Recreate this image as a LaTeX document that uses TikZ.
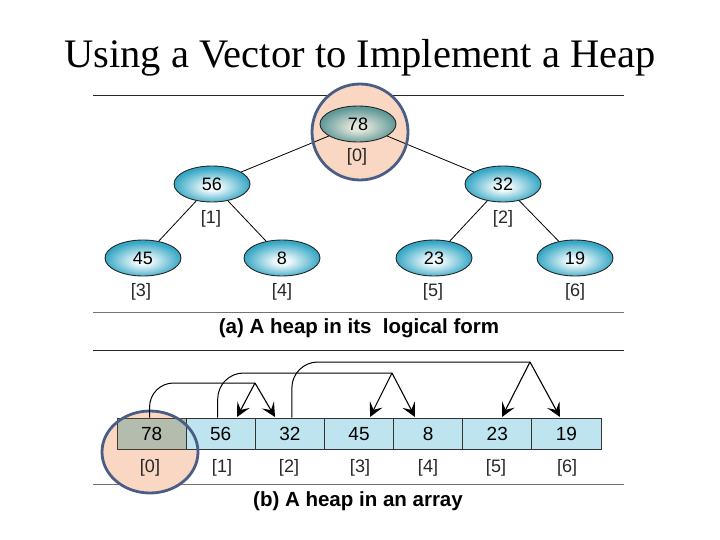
\documentclass[tikz,border=0pt]{standalone}
\usepackage{fontspec}
\setmainfont{Liberation Serif}
\newfontfamily\lab{Liberation Sans}
\usetikzlibrary{shapes.geometric,arrows.meta}
\definecolor{cyanOut}{HTML}{36A7C5}
\definecolor{cyanIn}{HTML}{EEF9FB}
\definecolor{rootOut}{HTML}{5E9898}
\definecolor{rootIn}{HTML}{E2E6DA}
\definecolor{peach}{HTML}{F9D7C3}
\definecolor{ringblue}{HTML}{4A5D86}
\definecolor{cellblue}{HTML}{BEE4EF}
\definecolor{cellroot}{HTML}{B4BCAD}
\definecolor{cellrootline}{HTML}{4B3B2B}
\pgfdeclareradialshading{cyanshade}{\pgfpoint{0bp}{-5bp}}{color(0bp)=(cyanIn); color(5bp)=(cyanIn); color(25bp)=(cyanOut); color(50bp)=(cyanOut)}
\pgfdeclareradialshading{rootshade}{\pgfpoint{0bp}{-5bp}}{color(0bp)=(rootIn); color(5bp)=(rootIn); color(25bp)=(rootOut); color(50bp)=(rootOut)}
\begin{document}
\begin{tikzpicture}[x=1pt,y=-1pt,
  heapnode/.style={ellipse,draw=black!85,line width=0.9pt,shading=cyanshade,
    minimum width=76pt,minimum height=36pt,inner sep=0pt,
    text height=13pt,text depth=0pt,
    font=\lab\fontsize{18}{20}\selectfont},
  rootnode/.style={heapnode,shading=rootshade},
  idx/.style={font=\lab\fontsize{18}{20}\selectfont,text=black!85,inner sep=0pt},
  cellbox/.style={rectangle,draw=black!80,line width=0.9pt,fill=cellblue,
    minimum width=69.14pt,minimum height=31pt,inner sep=0pt,
    text height=13.6pt,text depth=0pt,
    font=\lab\fontsize{19}{21}\selectfont},
  caption/.style={font=\lab\bfseries\fontsize{20.5}{23}\selectfont,inner sep=0pt},
  treeedge/.style={line width=0.8pt,black},
  link/.style={line width=1pt,black,rounded corners=26pt},
  arr/.style={line width=1.1pt,black,-{Stealth[length=14pt,width=14pt,inset=6pt]}},
  ring/.style={draw=ringblue,line width=2.8pt}]
\useasboundingbox (0,0) rectangle (720,540);
% title
\node[font=\fontsize{40.5}{44}\selectfont,inner sep=0pt] (title) at (360,58) {Using a Vector to Implement a Heap};
% panel (a) frame
\draw[line width=1pt,black!85] (93,96) -- (624,96);
\draw[line width=1pt,black!55] (93,312) -- (624,312);
% peach highlight (a)
\fill[peach] (360,132) circle (48pt);
% tree nodes
\node[rootnode] (n0) at (358,124) {78};
\node[heapnode] (n1) at (212,184) {56};
\node[heapnode] (n2) at (503,184) {32};
\node[heapnode] (n3) at (143,258) {45};
\node[heapnode] (n4) at (282,258) {8};
\node[heapnode] (n5) at (434,258) {23};
\node[heapnode] (n6) at (575,258) {19};
\draw[treeedge] (n0) -- (n1);
\draw[treeedge] (n0) -- (n2);
\draw[treeedge] (n1) -- (n3);
\draw[treeedge] (n1) -- (n4);
\draw[treeedge] (n2) -- (n5);
\draw[treeedge] (n2) -- (n6);
\node[idx] (i0) at (357,157) {[0]};
\node[idx] (i1) at (211,219) {[1]};
\node[idx] (i2) at (503,219) {[2]};
\node[idx] (i3) at (141,292) {[3]};
\node[idx] (i4) at (282,292) {[4]};
\node[idx] (i5) at (433,292) {[5]};
\node[idx] (i6) at (575,292) {[6]};
\draw[ring] (360,132) circle (48pt);
\node[caption] (capa) at (359,328) {(a) A heap in its\ \ logical form};
% panel (b) frame
\draw[line width=1pt,black!85] (93,350) -- (624,350);
\draw[line width=1pt,black!55] (93,484) -- (624,484);
\fill[peach] (150,452) ellipse [x radius=48pt,y radius=41pt];
% array cells
\node[cellbox,fill=cellroot,draw=cellrootline] (c0) at (151.57,433.5) {78};
\node[cellbox] (c1) at (220.71,433.5) {56};
\node[cellbox] (c2) at (289.86,433.5) {32};
\node[cellbox] (c3) at (359.00,433.5) {45};
\node[cellbox] (c4) at (428.14,433.5) {8};
\node[cellbox] (c5) at (497.29,433.5) {23};
\node[cellbox] (c6) at (566.43,433.5) {19};
\node[idx] (j0) at (150,468) {[0]};
\node[idx] (j1) at (222,468) {[1]};
\node[idx] (j2) at (289,468) {[2]};
\node[idx] (j3) at (360,468) {[3]};
\node[idx] (j4) at (428,468) {[4]};
\node[idx] (j5) at (496,468) {[5]};
\node[idx] (j6) at (567,468) {[6]};
\draw[ring] (150,452) ellipse [x radius=48pt,y radius=41pt];
% links
\coordinate (a0) at (255,383);
\coordinate (a1) at (392,373);
\coordinate (a2) at (530,362);
\coordinate (t1) at (237,417);
\coordinate (t2) at (275,417);
\coordinate (t3) at (370,417);
\coordinate (t4) at (415,417);
\coordinate (t5) at (502,417);
\coordinate (t6) at (560,417);
\draw[link,rounded corners=24pt] ([xshift=-2pt]c0.north) |- (a0);
\draw[link] ([xshift=-3pt]c1.north) |- (a1);
\draw[link] ([xshift=2pt]c2.north) |- (a2);
\draw[arr] (a0) -- (t1);
\draw[arr] (a0) -- (t2);
\draw[arr] (a1) -- (t3);
\draw[arr] (a1) -- (t4);
\draw[arr] (a2) -- (t5);
\draw[arr] (a2) -- (t6);
\node[caption] (capb) at (358,501) {(b) A heap in an array};
\end{tikzpicture}
\end{document}
